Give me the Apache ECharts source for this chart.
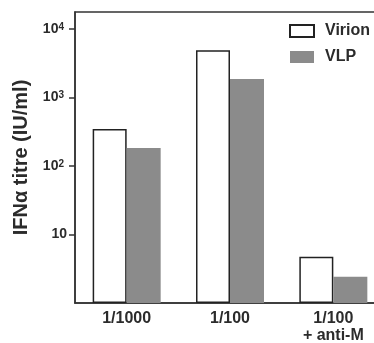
<!DOCTYPE html>
<html>
<head>
<meta charset="utf-8">
<script src="https://cdn.jsdelivr.net/npm/echarts@6/dist/echarts.min.js"></script>
<style>
html,body{margin:0;padding:0;background:#fff;}
#chart{width:374px;height:343px;}
</style>
</head>
<body>
<div id="chart"></div>
<script>
const categories = ['1/1000', '1/100', '1/100\n+ anti-M'];
const virion = [347, 4930, 4.74];
const vlp = [183, 1862, 2.42];
const yTicks = [10, 100, 1000, 10000];
const yMin = 1;
const yMax = 17800;

const FONT = '"Liberation Sans", Arial, Helvetica, sans-serif';
const TXT = '#2b2b2b';
const LINE = '#333';

const chart = echarts.init(document.getElementById('chart'), null, {renderer: 'canvas'});
chart.setOption({
  animation: false,
  backgroundColor: '#fff',
  grid: {
    left: 75, top: 12, width: 310, bottom: 40,
    outerBoundsMode: 'none',
    containLabel: false,
    show: true, borderColor: LINE, borderWidth: 1.5, backgroundColor: 'transparent'
  },
  legend: {
    orient: 'vertical',
    left: 289, top: 23,
    padding: 0,
    itemWidth: 24, itemHeight: 12, itemGap: 10,
    icon: 'rect',
    textStyle: {fontFamily: FONT, fontWeight: 'bold', fontSize: 16, color: TXT, padding: [0, 0, 0, 6]},
    data: ['Virion', 'VLP']
  },
  xAxis: {
    type: 'category',
    data: categories,
    axisLine: {show: true, lineStyle: {color: LINE, width: 1.5}},
    axisTick: {show: false},
    axisLabel: {
      interval: 0, margin: 7, color: TXT,
      fontFamily: FONT, fontWeight: 'bold', fontSize: 16, lineHeight: 17
    }
  },
  yAxis: {
    type: 'log',
    logBase: 10,
    min: yMin,
    max: yMax,
    name: 'IFN\u03b1 titre (IU/ml)',
    nameLocation: 'middle',
    nameGap: 37,
    nameTextStyle: {fontFamily: FONT, fontWeight: 'bold', fontSize: 20, color: TXT},
    splitLine: {show: false},
    axisLine: {show: true, lineStyle: {color: LINE, width: 1.5}},
    axisTick: {show: true, length: 6, customValues: yTicks, lineStyle: {color: LINE, width: 1.5}},
    axisLabel: {
      customValues: yTicks,
      margin: 8,
      color: TXT,
      formatter: function (v) {
        const e = Math.round(Math.log10(v));
        return e === 1 ? '{b|10}' : '{b|10}{s|' + e + '}';
      },
      rich: {
        b: {fontFamily: FONT, fontWeight: 'bold', fontSize: 14, color: TXT, lineHeight: 14, verticalAlign: 'bottom'},
        s: {fontFamily: FONT, fontWeight: 'bold', fontSize: 10, color: TXT, lineHeight: 10, verticalAlign: 'top', padding: [0, 3, 4, 0]}
      }
    }
  },
  series: [
    {
      name: 'Virion', type: 'bar', data: virion,
      barWidth: 34, barGap: '0%',
      itemStyle: {color: '#ffffff', borderColor: '#222', borderWidth: 1.5}
    },
    {
      name: 'VLP', type: 'bar', data: vlp,
      barWidth: 34,
      itemStyle: {color: '#8b8b8b', borderColor: '#8b8b8b', borderWidth: 0}
    }
  ]
});
</script>
</body>
</html>
